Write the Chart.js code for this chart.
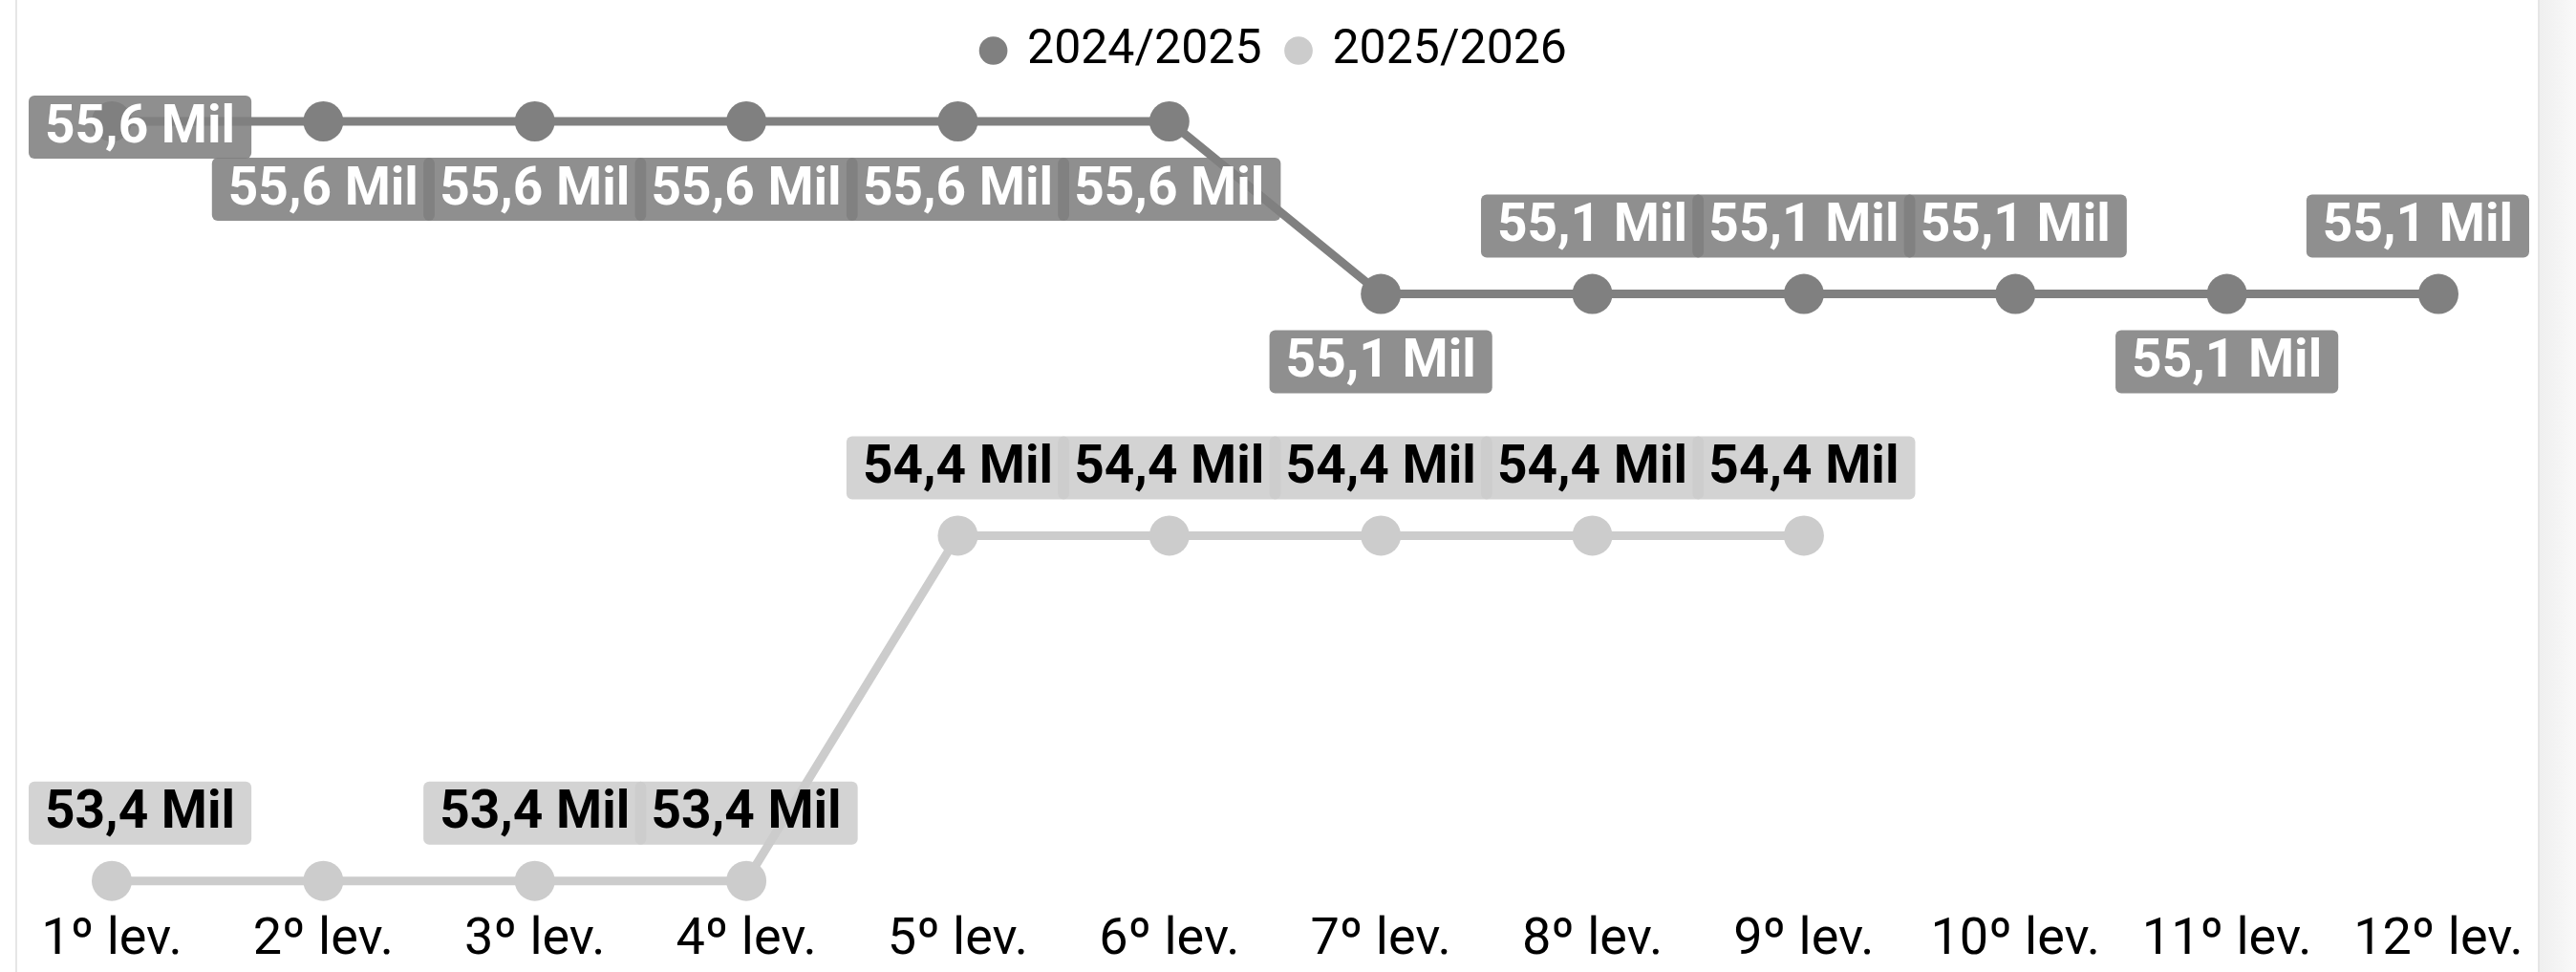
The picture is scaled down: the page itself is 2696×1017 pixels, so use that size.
<!DOCTYPE html>
<html><head><meta charset="utf-8">
<script src="https://cdn.jsdelivr.net/npm/chart.js@4.4.1/dist/chart.umd.min.js"></script>
<style>
html,body{margin:0;padding:0;background:#fff;}
#wrap{position:relative;width:2696px;height:1017px;overflow:hidden;background:#fff;}
#lb{position:absolute;left:16px;top:0;width:2px;height:1017px;background:#e6e6e6;}
#rp{position:absolute;left:2656px;top:0;width:40px;height:1017px;border-left:2px solid #e6e6e6;background:linear-gradient(to right,#efefef,#f9f9f9);box-sizing:border-box;}
canvas{position:absolute;left:0;top:0;}
</style></head>
<body><div id="wrap"><div id="lb"></div><div id="rp"></div><canvas id="c" width="2696" height="1017"></canvas></div>
<script>
const categories = ['1º lev.','2º lev.','3º lev.','4º lev.','5º lev.','6º lev.','7º lev.','8º lev.','9º lev.','10º lev.','11º lev.','12º lev.'];
const seriesNames = ['2024/2025','2025/2026'];
const values2425 = [55.6,55.6,55.6,55.6,55.6,55.6,55.1,55.1,55.1,55.1,55.1,55.1];
const values2526 = [53.4,53.4,53.4,53.4,54.4,54.4,54.4,54.4,54.4,null,null,null];
const labelPlace2425 = ['center','below','below','below','below','below','below','above','above','above','below','above'];
const labelPlace2526 = ['above','none','above','above','above','above','above','above','above','none','none','none'];

const FONT = 'Roboto';
const LABEL_OFFSET = 71, LABEL_H = 66, LABEL_PADX = 17, LABEL_MINX = 30, LABEL_MAXX = 2647;

function fmt(v){ return v.toFixed(1).replace('.', ',') + ' Mil'; }

const boxLabels = {
  id: 'boxLabels',
  afterDatasetsDraw(chart){
    const ctx = chart.ctx;
    chart.data.datasets.forEach((ds, di) => {
      const meta = chart.getDatasetMeta(di);
      meta.data.forEach((pt, i) => {
        const v = ds.data[i];
        const p = ds.labelPlace[i];
        if (v == null || p === 'none') return;
        const text = fmt(v);
        ctx.save();
        ctx.font = 'bold 55px ' + FONT;
        const w = ctx.measureText(text).width + 2 * LABEL_PADX;
        let cy = pt.y;
        if (p === 'above') cy -= LABEL_OFFSET;
        else if (p === 'below') cy += LABEL_OFFSET;
        else cy += 6;
        let left = Math.max(LABEL_MINX, Math.min(LABEL_MAXX - w, pt.x - w / 2));
        const top = cy - LABEL_H / 2;
        ctx.fillStyle = ds.labelBg;
        ctx.beginPath();
        ctx.roundRect(left, top, w, LABEL_H, 6);
        ctx.fill();
        ctx.fillStyle = ds.labelColor;
        ctx.textAlign = 'center';
        ctx.textBaseline = 'middle';
        ctx.fillText(text, left + w / 2, cy + 2);
        ctx.restore();
      });
    });
  }
};

const chart = new Chart(document.getElementById('c'), {
  type: 'line',
  data: {
    labels: categories,
    datasets: [
      {
        label: seriesNames[0], data: values2425, labelPlace: labelPlace2425,
        borderColor: '#808080', backgroundColor: '#808080',
        pointBackgroundColor: '#808080', pointBorderWidth: 0, pointRadius: 21, pointHoverRadius: 21,
        borderWidth: 9, tension: 0,
        labelBg: 'rgba(128,128,128,0.88)', labelColor: '#ffffff'
      },
      {
        label: seriesNames[1], data: values2526, labelPlace: labelPlace2526,
        borderColor: '#cccccc', backgroundColor: '#cccccc',
        pointBackgroundColor: '#cccccc', pointBorderWidth: 0, pointRadius: 21, pointHoverRadius: 21,
        borderWidth: 9, tension: 0,
        labelBg: 'rgba(204,204,204,0.86)', labelColor: '#000000'
      }
    ]
  },
  options: {
    responsive: false, animation: false,
    layout: { padding: { left: 117, right: 144, top: 0, bottom: 0 } },
    plugins: {
      tooltip: { enabled: false },
      legend: {
        position: 'top', align: 'center',
        labels: {
          usePointStyle: true, pointStyle: 'circle', boxWidth: 21, boxHeight: 21, padding: 28,
          color: '#000', font: { family: FONT, size: 50 },
          generateLabels(ch){
            const items = Chart.defaults.plugins.legend.labels.generateLabels(ch);
            items.forEach(it => { it.lineWidth = 0; });
            return items;
          }
        }
      }
    },
    scales: {
      x: {
        offset: false,
        grid: { display: false }, border: { display: false },
        ticks: { color: '#000', font: { family: FONT, size: 54 }, padding: 0, maxRotation: 0, autoSkip: false }
      },
      y: { display: false, min: 53.3376, max: 55.708 }
    }
  },
  plugins: [boxLabels]
});
</script>
</body></html>
